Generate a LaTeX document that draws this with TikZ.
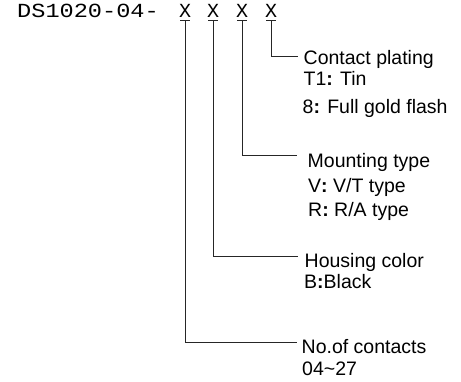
\documentclass[tikz,border=0pt]{standalone}
\usepackage{fontspec}
\setmainfont{Liberation Sans}
\newfontfamily\hdrfont{Liberation Mono}
\tikzset{
  lbl/.style={anchor=base west, inner sep=0pt, font=\fontsize{19.5}{22}\selectfont},
  hdr/.style={anchor=base west, inner sep=0pt, font=\hdrfont\fontsize{20}{22}\selectfont},
  xch/.style={anchor=base, inner sep=0pt, font=\hdrfont\fontsize{20}{22}\selectfont},
  conn/.style={line width=1pt, draw=black!85},
}
\begin{document}
\begin{tikzpicture}[x=1pt,y=-1pt]
\useasboundingbox (0,0) rectangle (461,382);
% header
\node[hdr] (head) at (17,18) {\scalebox{1.18}[1]{DS1020-04-}};
\node[xch] (x1) at (185,18) {X};
\node[xch] (x2) at (213,18) {X};
\node[xch] (x3) at (242,18) {X};
\node[xch] (x4) at (271,18) {X};
% underline anchors
\coordinate (u1) at (185,21);
\coordinate (u2) at (213,21);
\coordinate (u3) at (242,21);
\coordinate (u4) at (271,21);
\foreach \i in {1,2,3,4}{
  \draw[conn] ([xshift=-5pt]u\i) -- ([xshift=5pt]u\i);
}
% line ends
\coordinate (e4) at (298,57);
\coordinate (e3) at (297,156);
\coordinate (e2) at (298,257);
\coordinate (e1) at (297,343);
\draw[conn] (u4) |- (e4);
\draw[conn] (u3) |- (e3);
\draw[conn] (u2) |- (e2);
\draw[conn] (u1) |- (e1);
% labels
\node[lbl] (cp) at (303.5,65) {Contact plating};
\node[lbl] (cp1) at (303.5,86) {T1\textbf{:} Tin};
\node[lbl] (cp2) at (302.5,114) {8\textbf{:} Full gold flash};
\node[lbl] (mt) at (307.5,168) {Mounting type};
\node[lbl] (mt1) at (308,193) {V\textbf{:} V/T type};
\node[lbl] (mt2) at (308,217) {R\textbf{:} R/A type};
\node[lbl] (hc) at (304.5,268) {Housing color};
\node[lbl] (hc1) at (304,289) {B\textbf{:}Black};
\node[lbl] (nc) at (301.5,353) {No.of contacts};
\node[lbl] (nc1) at (302,375) {04\textasciitilde 27};
\end{tikzpicture}
\end{document}
